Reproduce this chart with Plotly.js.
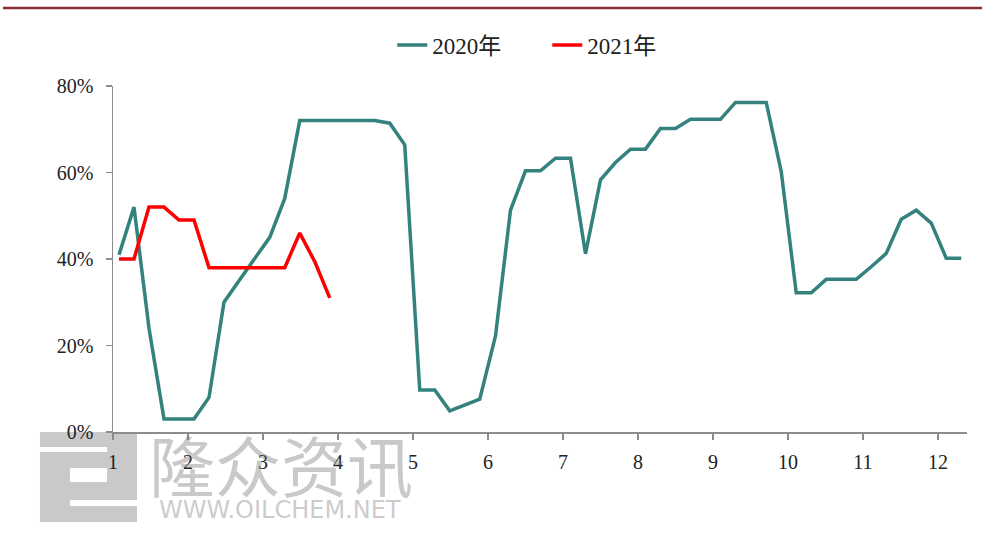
<!DOCTYPE html>
<html>
<head>
<meta charset="utf-8">
<script src="https://cdn.plot.ly/plotly-3.0.1.min.js"></script>
<style>html,body{margin:0;padding:0;background:#fff;}#chart{width:982px;height:537px;}</style>
</head>
<body>
<div id="chart"></div>
<script>
// x positions in month units (weekly observations)
const x2020 = [1.08,1.28,1.48,1.68,1.88,2.08,2.28,2.48,2.68,2.89,3.09,3.29,3.49,3.69,3.89,4.09,4.29,4.49,4.69,4.89,
  5.09,5.29,5.49,5.69,5.89,6.10,6.30,6.50,6.70,6.90,7.10,7.30,7.50,7.70,7.90,8.10,8.30,8.50,8.70,8.90,
  9.10,9.30,9.51,9.71,9.91,10.11,10.31,10.51,10.71,10.91,11.11,11.31,11.51,11.71,11.91,12.11,12.31];
const y2020 = [41,52,24,3,3,3,8,30,35,40,45,54,72,72,72,72,72,72,71.4,66.4,
  9.7,9.7,4.9,6.2,7.6,22.2,51.3,60.4,60.4,63.3,63.3,41.2,58.3,62.3,65.4,65.4,70.2,70.2,72.3,72.3,
  72.3,76.2,76.2,76.2,60.2,32.2,32.2,35.3,35.3,35.3,38.2,41.3,49.2,51.3,48.3,40.2,40.2];
const x2021 = [1.08,1.28,1.48,1.68,1.88,2.08,2.28,2.48,2.68,2.89,3.09,3.29,3.49,3.69,3.89];
const y2021 = [40,40,52,52,49,49,38,38,38,38,38,38,46,39.4,31];
const seriesNames = ['2020年','2021年'];
const xTicks = [1,2,3,4,5,6,7,8,9,10,11,12];
const yTicks = [0,20,40,60,80];
const yTickText = ['0%','20%','40%','60%','80%'];

const serif = 'Liberation Serif, Times New Roman, Noto Sans CJK SC, serif';
const traces = [
  {x:x2020, y:y2020, name:seriesNames[0], type:'scatter', mode:'lines',
   line:{color:'#33827E', width:3.5}},
  {x:x2021, y:y2021, name:seriesNames[1], type:'scatter', mode:'lines',
   line:{color:'#FF0000', width:3.5}}
];
const axisCol = '#8c8c8c';
const wm = 'rgba(120,120,120,0.4)';
const layout = {
  width:982, height:537,
  margin:{l:113, r:15, t:86, b:105, pad:0},
  paper_bgcolor:'#ffffff', plot_bgcolor:'rgba(0,0,0,0)',
  showlegend:true,
  legend:{orientation:'h', x:0.327, xanchor:'left', y:1.118, yanchor:'middle',
    font:{family:serif, size:23, color:'#222'}, bgcolor:'rgba(0,0,0,0)', entrywidth:110, entrywidthmode:'pixels'},
  xaxis:{range:[1,12.387], tickmode:'array', tickvals:xTicks, ticktext:xTicks.map(String),
    showgrid:false, zeroline:false, showline:true, linecolor:axisCol, linewidth:1.5,
    ticks:'outside', ticklen:6, tickcolor:axisCol, tickwidth:1.5, ticklabelstandoff:5,
    tickfont:{family:serif, size:20, color:'#222'}, fixedrange:true},
  yaxis:{range:[0,80], tickmode:'array', tickvals:yTicks, ticktext:yTickText,
    showgrid:false, zeroline:false, showline:true, linecolor:axisCol, linewidth:1.5,
    ticks:'outside', ticklen:6, tickcolor:axisCol, tickwidth:1.5, ticklabelstandoff:8,
    tickfont:{family:serif, size:20, color:'#222'}, fixedrange:true},
  shapes:[
    {type:'line', xref:'paper', yref:'paper', x0:-0.1288, x1:1.0176, y0:1.2254, y1:1.2254,
     line:{color:'#8B2F2F', width:2.5}},
    // watermark logo block
    {type:'rect', xref:'paper', yref:'paper', layer:'below', x0:-0.0855, x1:0.0281, y0:-0.260, y1:0,
     fillcolor:'#c9c9c9', line:{width:0}},
    {type:'rect', xref:'paper', yref:'paper', layer:'below', x0:-0.0855, x1:-0.0070, y0:-0.0578, y1:-0.0434,
     fillcolor:'#ffffff', line:{width:0}},
    {type:'rect', xref:'paper', yref:'paper', layer:'below', x0:-0.0504, x1:-0.0070, y0:-0.1445, y1:-0.104,
     fillcolor:'#ffffff', line:{width:0}},
    {type:'rect', xref:'paper', yref:'paper', layer:'below', x0:-0.0504, x1:0.0281, y0:-0.2139, y1:-0.1965,
     fillcolor:'#ffffff', line:{width:0}}
  ],
  annotations:[
    {text:'隆众资讯', xref:'paper', yref:'paper', x:0.1967, y:-0.0896, xanchor:'center', yanchor:'middle',
     showarrow:false, font:{family:'Noto Sans CJK SC, sans-serif', size:66, color:wm}},
    {text:'WWW.OILCHEM.NET', xref:'paper', yref:'paper', x:0.1956, y:-0.2254, xanchor:'center', yanchor:'middle',
     showarrow:false, font:{family:'DejaVu Sans, sans-serif', size:24, color:wm}}
  ]
};
Plotly.newPlot('chart', traces, layout, {displayModeBar:false, staticPlot:true});
</script>
</body>
</html>
